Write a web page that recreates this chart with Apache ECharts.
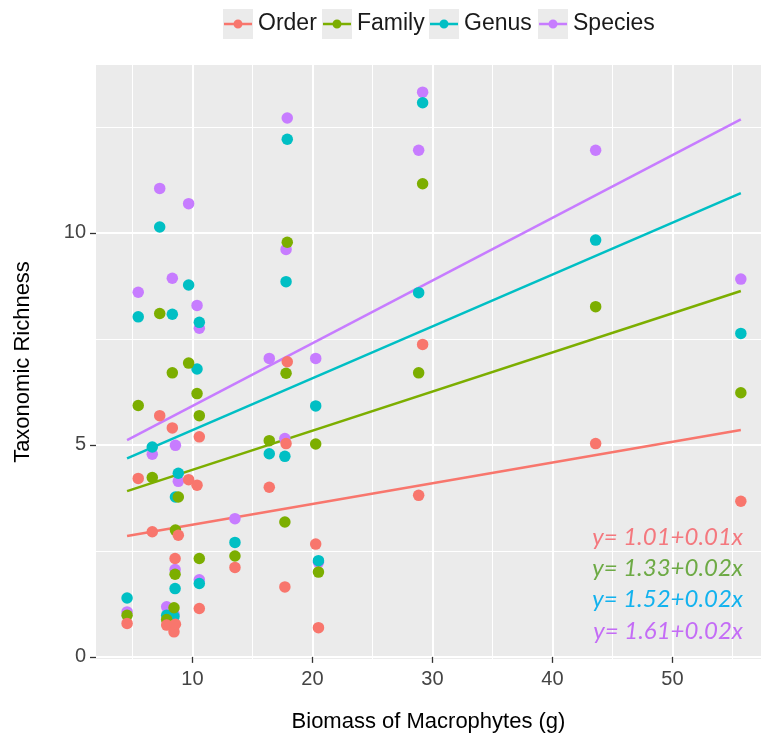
<!DOCTYPE html>
<html>
<head>
<meta charset="utf-8">
<title>Taxonomic Richness vs Biomass of Macrophytes</title>
<script src="https://cdn.jsdelivr.net/npm/echarts@6/dist/echarts.min.js"></script>
<style>
html, body { margin: 0; padding: 0; background: #fff; }
#chart { width: 761px; height: 740px; }
</style>
</head>
<body>
<div id="chart"></div>
<script>
// taxonomic levels, legend order
var levels = ['Order', 'Family', 'Genus', 'Species'];

// biomass of macrophytes (g) per site
var biomass = [4.55, 5.48, 6.65, 7.27, 7.85, 8.32, 8.46, 8.55, 8.58, 8.82,
    9.68, 10.38, 10.57, 10.57, 13.54, 16.4, 17.9, 17.8, 17.7, 20.27,
    20.5, 29.18, 28.85, 43.6, 55.7];

// richness per level, same site order as biomass
var orderRich = [0.79, 4.21, 2.95, 5.69, 0.75, 5.40, 0.59, 2.32, 0.77, 2.87,
    4.18, 4.05, 5.19, 1.14, 2.11, 4.00, 6.96, 5.03, 1.65, 2.66,
    0.69, 7.37, 3.81, 5.03, 3.67];
var familyRich = [0.98, 5.93, 4.23, 8.10, 0.88, 6.70, 1.16, 1.95, 2.99, 3.77,
    6.93, 6.21, 5.69, 2.32, 2.38, 5.10, 9.78, 6.69, 3.18, 5.02,
    2.00, 11.16, 6.70, 8.26, 6.23];
var genusRich = [1.39, 8.02, 4.95, 10.14, 0.98, 8.08, 0.95, 1.61, 3.77, 4.33,
    8.77, 6.79, 7.89, 1.73, 2.70, 4.79, 12.21, 8.85, 4.73, 5.92,
    2.27, 13.07, 8.59, 9.83, 7.63];
var speciesRich = [1.06, 8.60, 4.78, 11.05, 1.18, 8.93, 1.01, 2.06, 4.99, 4.14,
    10.69, 8.29, 7.75, 1.82, 3.26, 7.04, 12.71, 9.61, 5.15, 7.04,
    2.23, 13.32, 11.95, 11.95, 8.91];

// fitted lines: value at smallest and largest biomass
var fitStart = [2.85, 3.91, 4.68, 5.11];
var fitEnd = [5.35, 8.63, 10.94, 12.68];

var eqLabels = ['y= 1.01+0.01x', 'y= 1.33+0.02x', 'y= 1.52+0.02x', 'y= 1.61+0.02x'];

var xTicks = [10, 20, 30, 40, 50];
var xMinorTicks = [5, 15, 25, 35, 45, 55];
var yTicks = [0, 5, 10];
var yMinorTicks = [2.5, 7.5, 12.5];

var colors = ['#F8766D', '#7CAE00', '#00BFC4', '#C77CFF'];
var eqColors = ['#F4787E', '#6DAA45', '#12B2EE', '#C46CF6'];
var legendLeft = [223, 322, 429, 538];

var richness = [orderRich, familyRich, genusRich, speciesRich];
var font = 'Liberation Sans';
var keyIcon = 'path://M0,0L0.01,0L0,0.01Z M30,30L29.99,30L30,29.99Z M1,13.8L29,13.8L29,16.2L1,16.2Z M15,10.5A4.5,4.5 0 1 1 15,19.5A4.5,4.5 0 1 1 15,10.5Z';

var chart = echarts.init(document.getElementById('chart'));

var xMin = 1.96, xMax = 57.38;
var bMin = Math.min.apply(null, biomass), bMax = Math.max.apply(null, biomass);

var series = [];
// fitted lines below points
for (var i = 0; i < levels.length; i++) {
    series.push({
        name: levels[i],
        type: 'line',
        symbol: 'none',
        data: [[bMin, fitStart[i]], [bMax, fitEnd[i]]],
        itemStyle: { color: colors[i] },
        lineStyle: { color: colors[i], width: 2.5 },
        silent: true,
        z: 2
    });
}
// points, species first so order ends on top
for (var j = levels.length - 1; j >= 0; j--) {
    series.push({
        name: levels[j],
        type: 'scatter',
        symbolSize: 11.5,
        data: biomass.map(function(b, k) { return [b, richness[j][k]]; }),
        itemStyle: { color: colors[j], opacity: 1 },
        z: 3
    });
}

var legends = levels.map(function(name, i) {
    return {
        left: legendLeft[i],
        top: 9,
        padding: 0,
        itemWidth: 30,
        itemHeight: 30,
        selectedMode: false,
        icon: keyIcon,
        data: [name],
        textStyle: { fontSize: 23, color: '#1a1a1a', fontFamily: font },
        z: 10
    };
});

var graphics = legendLeft.map(function(l) {
    return { type: 'rect', left: l, top: 9, z: 1, shape: { width: 30, height: 30 }, style: { fill: '#EBEBEB' } };
});
eqLabels.forEach(function(t, i) {
    graphics.push({
        type: 'text',
        x: 743,
        y: 537 + i * 31.3,
        z: 10,
        style: {
            text: t,
            fill: eqColors[i],
            fontSize: 24,
            fontStyle: 'italic',
            fontFamily: 'Lato',
            align: 'right',
            verticalAlign: 'middle'
        }
    });
});

function valueAxis(min, max, ticks, minor, extra) {
    var major = {
        type: 'value',
        min: min,
        max: max,
        axisLine: { show: false },
        axisTick: { show: true, length: 6, customValues: ticks, lineStyle: { color: '#333', width: 1.3 } },
        axisLabel: { customValues: ticks, fontSize: 20, color: '#444', fontFamily: font, margin: 10 },
        splitLine: { show: true, lineStyle: { color: '#fff', width: 2 } }
    };
    for (var k in extra) { major[k] = extra[k]; }
    var minorAxis = {
        type: 'value',
        min: min,
        max: max,
        axisLine: { show: false },
        axisTick: { show: false, customValues: minor },
        axisLabel: { show: false, customValues: minor },
        splitLine: { show: true, lineStyle: { color: '#fff', width: 1 } }
    };
    return [major, minorAxis];
}

chart.setOption({
    animation: false,
    backgroundColor: '#fff',
    grid: {
        left: 96,
        right: 0,
        top: 65,
        bottom: 81,
        show: true,
        backgroundColor: '#EBEBEB',
        borderWidth: 0
    },
    legend: legends,
    xAxis: valueAxis(xMin, xMax, xTicks, xMinorTicks, {
        name: 'Biomass of Macrophytes (g)',
        nameLocation: 'middle',
        nameGap: 52,
        nameTextStyle: { fontSize: 22, color: '#000', fontFamily: font }
    }),
    yAxis: valueAxis(-0.05, 13.96, yTicks, yMinorTicks, {
        name: 'Taxonomic Richness',
        nameLocation: 'middle',
        nameGap: 62,
        nameTextStyle: { fontSize: 22, color: '#000', fontFamily: font }
    }),
    graphic: graphics,
    series: series
});
</script>
</body>
</html>
